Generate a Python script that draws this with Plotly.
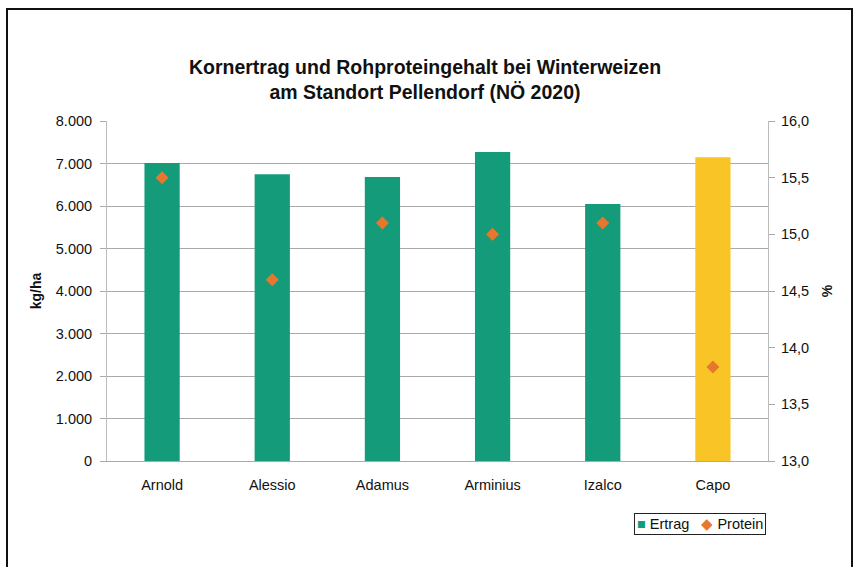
import plotly.graph_objects as go

# Data
sorten = ["Arnold", "Alessio", "Adamus", "Arminius", "Izalco", "Capo"]
ertrag = [7010, 6750, 6680, 7270, 6050, 7150]
protein = [15.5, 14.6, 15.1, 15.0, 15.1, 13.83]
bar_colors = ["#149b7a"] * 5 + ["#f9c526"]

y_ticks = [0, 1000, 2000, 3000, 4000, 5000, 6000, 7000, 8000]
y_labels = ["0", "1.000", "2.000", "3.000", "4.000", "5.000", "6.000", "7.000", "8.000"]
y2_ticks = [13.0, 13.5, 14.0, 14.5, 15.0, 15.5, 16.0]
y2_labels = ["13,0", "13,5", "14,0", "14,5", "15,0", "15,5", "16,0"]

W, H = 859, 567
ML, MR, MT, MB = 107, 91, 121, 106
plot_w = W - ML - MR
plot_h = H - MT - MB

fig = go.Figure()
fig.add_trace(go.Bar(x=sorten, y=ertrag, name="Ertrag", width=0.32,
                     marker=dict(color=bar_colors, line_width=0), showlegend=False))
fig.add_trace(go.Scatter(x=sorten, y=protein, name="Protein", yaxis="y2", mode="markers",
                         marker=dict(symbol="diamond", size=10, color="#e8772e"),
                         showlegend=False))

fig.update_layout(
    width=W, height=H,
    paper_bgcolor="white", plot_bgcolor="white",
    font=dict(family="Liberation Sans, Arial", size=14.5, color="#111"),
    title=dict(text="<b>Kornertrag und Rohproteingehalt bei Winterweizen<br>am Standort Pellendorf (NÖ 2020)</b>",
               x=425 / W, xanchor="center",
               y=1 - 74 / H, yanchor="middle", font=dict(size=19.5)),
    margin=dict(l=ML, r=MR, t=MT, b=MB, autoexpand=False),
    xaxis=dict(showline=True, linecolor="#aaa", ticks="", tickfont=dict(size=14.5),
               ticklabelstandoff=11),
    yaxis=dict(range=[0, 8000], tickvals=y_ticks, ticktext=y_labels, showgrid=True,
               gridcolor="#aaa", gridwidth=1, showline=True, linecolor="#bbb",
               ticks="outside", ticklen=6, tickcolor="#aaa", ticklabelstandoff=5,
               title=dict(text="<b>kg/ha</b>", standoff=10, font=dict(size=14))),
    yaxis2=dict(range=[13, 16], tickvals=y2_ticks, ticktext=y2_labels, overlaying="y",
                side="right", showgrid=False, showline=True, linecolor="#bbb",
                ticks="outside", ticklen=6, tickcolor="#aaa", ticklabelstandoff=3,
                title=dict(text="<b>%</b>", standoff=14, font=dict(size=14))),
    showlegend=False,
)

# outer chart border
fig.add_shape(type="rect", xref="paper", yref="paper",
              x0=(7 - ML) / plot_w, x1=(852 - ML) / plot_w,
              y0=(H - MB - 575) / plot_h, y1=(H - MB - 9) / plot_h,
              line=dict(color="#111", width=2))

# legend box, drawn as an annotation
fig.add_annotation(
    xref="paper", yref="paper",
    x=(700 - ML) / plot_w, y=(H - MB - 524) / plot_h,
    xanchor="center", yanchor="middle", showarrow=False,
    text="<span style='color:#149b7a'>■</span> Ertrag   <span style='color:#e8772e'>◆</span> Protein",
    font=dict(size=14.5, color="#111"),
    bordercolor="#222", borderwidth=1, borderpad=2, bgcolor="white",
)

fig.write_html("out.html", config={"displayModeBar": False},
               post_script="document.body.style.margin='0';")
